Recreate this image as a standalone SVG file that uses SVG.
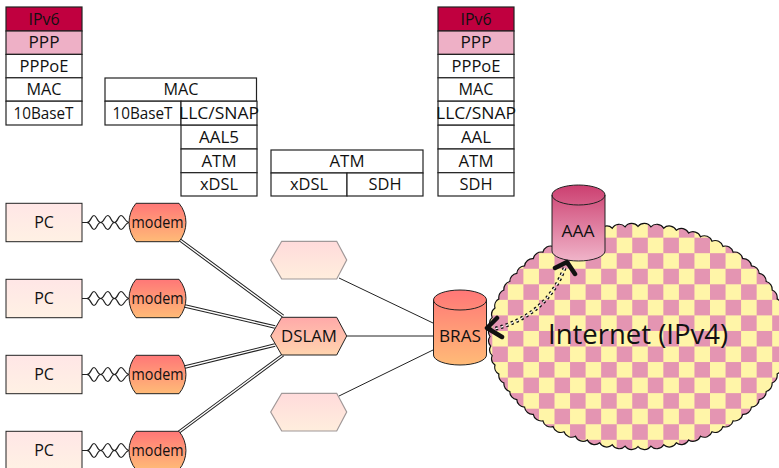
<svg xmlns="http://www.w3.org/2000/svg" width="779" height="468" viewBox="0 0 779 468">
<defs>
<linearGradient id="gPC" x1="0" y1="0" x2="0" y2="1"><stop offset="0" stop-color="#ffe6e6"/><stop offset="1" stop-color="#fff1e4"/></linearGradient>
<linearGradient id="gFade" x1="0" y1="0" x2="0" y2="1"><stop offset="0" stop-color="#ffdbdb"/><stop offset="1" stop-color="#ffeedd"/></linearGradient>
<linearGradient id="gMod" x1="0" y1="0" x2="0" y2="1"><stop offset="0" stop-color="#ff7777"/><stop offset="1" stop-color="#ffbb77"/></linearGradient>
<linearGradient id="gDs" x1="0" y1="0" x2="0" y2="1"><stop offset="0" stop-color="#ffa9a9"/><stop offset="1" stop-color="#ffd4ae"/></linearGradient>
<linearGradient id="gAAA" x1="0" y1="0" x2="0" y2="1"><stop offset="0" stop-color="#cc3f70"/><stop offset="1" stop-color="#f0b4c9"/></linearGradient>
<pattern id="chk" patternUnits="userSpaceOnUse" x="616.7" y="222.1" width="31.1" height="31.1">
<rect width="31.1" height="31.1" fill="#fff5a8"/>
<rect width="15.55" height="15.55" fill="#e495b2"/>
<rect x="15.55" y="15.55" width="15.55" height="15.55" fill="#e495b2"/>
</pattern>
<path id="modem" d="M136,0H179A30,30 0 0 1 179,38.400H136A30,30 0 0 1 136,0Z"/>
<path id="hex" d="M270.700,0L281.700,-18.700H336.700L346.700,0L336.700,19H281.700Z"/>
<path id="coil" d="M82,0H87C91,0 91,-7 94,-7S97,0 100.700,0S104.500,-7 107.700,-7S111,0 114.400,0S118,-7 121.100,-7S125,0 129.500,0M87,0C91,0 91,7 94,7S97,0 100.700,0S104.500,7 107.700,7S111,0 114.400,0S118,7 121.100,7S125,0 129.500,0"/>
</defs>
<style>
text{font-family:"Open Sans","Liberation Sans",sans-serif;font-size:16px;fill:#111;text-anchor:middle}
.cell{fill:#fff;stroke:#222;stroke-width:1.2}
.node{stroke:#222;stroke-width:1}
.pc{fill:url(#gPC)}
.mod{fill:url(#gMod)}
.fade{fill:url(#gFade);stroke:#a09898;stroke-width:1.2}
.coil{fill:none;stroke:#222;stroke-width:1.2}
.thin{fill:none;stroke:#222;stroke-width:1}
.dblo{fill:none;stroke:#222;stroke-width:3.4}
.dbli{fill:none;stroke:#fff;stroke-width:1.4}
</style>

<g id="stack-left">
<rect class="cell" x="6" y="7" width="76" height="24" style="fill:#c0003f"/><text x="44" y="24.500" textLength="31" lengthAdjust="spacingAndGlyphs">IPv6</text>
<rect class="cell" x="6" y="31" width="76" height="23.400" style="fill:#eeb0c6"/><text x="44" y="48" textLength="31" lengthAdjust="spacingAndGlyphs">PPP</text>
<rect class="cell" x="6" y="54.400" width="76" height="23.400"/><text x="44" y="71.500" textLength="49" lengthAdjust="spacingAndGlyphs">PPPoE</text>
<rect class="cell" x="6" y="77.800" width="76" height="23.400"/><text x="44" y="95" textLength="35" lengthAdjust="spacingAndGlyphs">MAC</text>
<rect class="cell" x="6" y="101.200" width="76" height="23.800"/><text x="43.500" y="119" textLength="60" lengthAdjust="spacingAndGlyphs">10BaseT</text>
</g>
<g id="stack-mid-left">
<rect class="cell" x="105" y="78" width="151.500" height="23.200"/><text x="181" y="95" textLength="35" lengthAdjust="spacingAndGlyphs">MAC</text>
<rect class="cell" x="105" y="101.200" width="76" height="23.800"/><text x="142.500" y="119" textLength="60" lengthAdjust="spacingAndGlyphs">10BaseT</text>
<rect class="cell" x="181" y="101.200" width="76" height="24"/><text x="219" y="119" textLength="80" lengthAdjust="spacingAndGlyphs">LLC/SNAP</text>
<rect class="cell" x="181" y="125.200" width="76" height="23.800"/><text x="219" y="143" textLength="40" lengthAdjust="spacingAndGlyphs">AAL5</text>
<rect class="cell" x="181" y="149" width="76" height="23.700"/><text x="219" y="166.500" textLength="35" lengthAdjust="spacingAndGlyphs">ATM</text>
<rect class="cell" x="181" y="172.700" width="76" height="23.300"/><text x="219" y="190" textLength="38" lengthAdjust="spacingAndGlyphs">xDSL</text>
</g>
<g id="stack-mid">
<rect class="cell" x="271" y="150" width="152" height="23"/><text x="347" y="167" textLength="35" lengthAdjust="spacingAndGlyphs">ATM</text>
<rect class="cell" x="271" y="173" width="76" height="23"/><text x="309" y="190" textLength="38" lengthAdjust="spacingAndGlyphs">xDSL</text>
<rect class="cell" x="347" y="173" width="76" height="23"/><text x="385" y="190" textLength="33" lengthAdjust="spacingAndGlyphs">SDH</text>
</g>
<g id="stack-right">
<rect class="cell" x="438" y="7" width="76" height="24" style="fill:#c0003f"/><text x="476" y="24.500" textLength="31" lengthAdjust="spacingAndGlyphs">IPv6</text>
<rect class="cell" x="438" y="31" width="76" height="23.400" style="fill:#eeb0c6"/><text x="476" y="48" textLength="31" lengthAdjust="spacingAndGlyphs">PPP</text>
<rect class="cell" x="438" y="54.400" width="76" height="23.400"/><text x="476" y="71.500" textLength="49" lengthAdjust="spacingAndGlyphs">PPPoE</text>
<rect class="cell" x="438" y="77.800" width="76" height="23.400"/><text x="476" y="95" textLength="35" lengthAdjust="spacingAndGlyphs">MAC</text>
<rect class="cell" x="438" y="101.200" width="76" height="24"/><text x="476" y="119" textLength="80" lengthAdjust="spacingAndGlyphs">LLC/SNAP</text>
<rect class="cell" x="438" y="125.200" width="76" height="23.800"/><text x="476" y="143" textLength="30" lengthAdjust="spacingAndGlyphs">AAL</text>
<rect class="cell" x="438" y="149" width="76" height="23.700"/><text x="476" y="166.500" textLength="35" lengthAdjust="spacingAndGlyphs">ATM</text>
<rect class="cell" x="438" y="172.700" width="76" height="23.300"/><text x="476" y="190" textLength="33" lengthAdjust="spacingAndGlyphs">SDH</text>
</g>

<g id="internet">
<path fill="url(#chk)" stroke="#111" stroke-width="1.2" d="M786,336.500A8,8 0 0 1 785.400,346.100A8,8 0 0 1 783.800,355.600A8,8 0 0 1 781,365A8,8 0 0 1 777.100,374.100A8,8 0 0 1 772.100,383A8,8 0 0 1 766.200,391.500A8,8 0 0 1 759.200,399.600A8,8 0 0 1 751.400,407.200A8,8 0 0 1 742.700,414.300A8,8 0 0 1 733.100,420.800A8,8 0 0 1 722.900,426.600A8,8 0 0 1 712,431.800A8,8 0 0 1 700.500,436.200A8,8 0 0 1 688.600,439.900A8,8 0 0 1 676.300,442.800A8,8 0 0 1 663.700,444.800A8,8 0 0 1 650.900,446.100A8,8 0 0 1 638,446.500A8,8 0 0 1 625.100,446.100A8,8 0 0 1 612.300,444.800A8,8 0 0 1 599.700,442.800A8,8 0 0 1 587.400,439.900A8,8 0 0 1 575.500,436.200A8,8 0 0 1 564,431.800A8,8 0 0 1 553.100,426.600A8,8 0 0 1 542.900,420.800A8,8 0 0 1 533.300,414.300A8,8 0 0 1 524.600,407.200A8,8 0 0 1 516.800,399.600A8,8 0 0 1 509.800,391.500A8,8 0 0 1 503.900,383A8,8 0 0 1 498.900,374.100A8,8 0 0 1 495,365A8,8 0 0 1 492.200,355.600A8,8 0 0 1 490.600,346.100A8,8 0 0 1 490,336.500A8,8 0 0 1 490.600,326.900A8,8 0 0 1 492.200,317.400A8,8 0 0 1 495,308A8,8 0 0 1 498.900,298.900A8,8 0 0 1 503.900,290A8,8 0 0 1 509.800,281.500A8,8 0 0 1 516.800,273.400A8,8 0 0 1 524.600,265.800A8,8 0 0 1 533.300,258.700A8,8 0 0 1 542.900,252.200A8,8 0 0 1 553.100,246.400A8,8 0 0 1 564,241.200A8,8 0 0 1 575.500,236.800A8,8 0 0 1 587.400,233.100A8,8 0 0 1 599.700,230.200A8,8 0 0 1 612.300,228.200A8,8 0 0 1 625.100,226.900A8,8 0 0 1 638,226.500A8,8 0 0 1 650.900,226.900A8,8 0 0 1 663.700,228.200A8,8 0 0 1 676.300,230.200A8,8 0 0 1 688.600,233.100A8,8 0 0 1 700.500,236.800A8,8 0 0 1 712,241.200A8,8 0 0 1 722.900,246.400A8,8 0 0 1 733.100,252.200A8,8 0 0 1 742.700,258.700A8,8 0 0 1 751.400,265.800A8,8 0 0 1 759.200,273.400A8,8 0 0 1 766.200,281.500A8,8 0 0 1 772.100,290A8,8 0 0 1 777.100,298.900A8,8 0 0 1 781,308A8,8 0 0 1 783.800,317.400A8,8 0 0 1 785.400,326.900A8,8 0 0 1 786,336.500Z"/>
<text x="638" y="344" style="font-size:28px" textLength="180" lengthAdjust="spacingAndGlyphs">Internet (IPv4)</text>
</g>

<g id="connectors">
<use href="#coil" class="coil" y="222.500"/>
<use href="#coil" class="coil" y="298.500"/>
<use href="#coil" class="coil" y="374.500"/>
<use href="#coil" class="coil" y="450.500"/>
<path class="dblo" d="M180,240L283,316M185,306L275,327M185,367L275,345M179,432L283,355"/>
<path class="dbli" d="M180,240L283,316M185,306L275,327M185,367L275,345M179,432L283,355"/>
<path class="thin" d="M339,278L433,323M347,336H433M339,396L433,350"/>
</g>

<g id="pc1"><rect class="node pc" x="6" y="203.300" width="76" height="38.400"/><text x="44" y="228">PC</text></g>
<g id="pc2"><rect class="node pc" x="6" y="279.300" width="76" height="38.400"/><text x="44" y="304">PC</text></g>
<g id="pc3"><rect class="node pc" x="6" y="355.300" width="76" height="38.400"/><text x="44" y="380">PC</text></g>
<g id="pc4"><rect class="node pc" x="6" y="431.300" width="76" height="38.400"/><text x="44" y="456">PC</text></g>
<g id="modem1"><use href="#modem" class="node mod" y="203.300"/><text x="157.500" y="228" textLength="52" lengthAdjust="spacingAndGlyphs">modem</text></g>
<g id="modem2"><use href="#modem" class="node mod" y="279.300"/><text x="157.500" y="304" textLength="52" lengthAdjust="spacingAndGlyphs">modem</text></g>
<g id="modem3"><use href="#modem" class="node mod" y="355.300"/><text x="157.500" y="380" textLength="52" lengthAdjust="spacingAndGlyphs">modem</text></g>
<g id="modem4"><use href="#modem" class="node mod" y="431.300"/><text x="157.500" y="456" textLength="52" lengthAdjust="spacingAndGlyphs">modem</text></g>
<g id="dslam-top"><use href="#hex" class="fade" y="260"/></g>
<g id="dslam"><use href="#hex" y="336" fill="url(#gDs)" stroke="#222"/><text x="309" y="341.500" textLength="56" lengthAdjust="spacingAndGlyphs">DSLAM</text></g>
<g id="dslam-bottom"><use href="#hex" class="fade" y="412"/></g>
<g id="bras">
<path class="node mod" d="M433.500,300V355A26.500,10 0 0 0 486.500,355V300A26.500,10 0 0 0 433.500,300Z"/>
<path fill="none" stroke="#222" d="M433.500,300A26.500,10 0 0 0 486.500,300"/>
<text x="460" y="342" textLength="42" lengthAdjust="spacingAndGlyphs">BRAS</text>
</g>
<g id="aaa">
<path class="node" fill="url(#gAAA)" d="M552,195V251A26.500,10 0 0 0 605,251V195A26.500,10 0 0 0 552,195Z"/>
<path fill="none" stroke="#222" d="M552,195A26.500,10 0 0 0 605,195"/>
<text x="578" y="237" textLength="33" lengthAdjust="spacingAndGlyphs">AAA</text>
</g>
<g id="link">
<path d="M490,330Q548,317 566,264" fill="none" stroke="#111" stroke-width="4" stroke-dasharray="2.500 3"/>
<path d="M490,330Q548,317 566,264" fill="none" stroke="#fff" stroke-width="1.300" stroke-dasharray="2.500 3"/>
<path d="M497,318L487,328L502,337M555,268L567,262L575,274" fill="none" stroke="#111" stroke-width="4.500" stroke-linecap="round" stroke-linejoin="round"/>
</g>
</svg>
